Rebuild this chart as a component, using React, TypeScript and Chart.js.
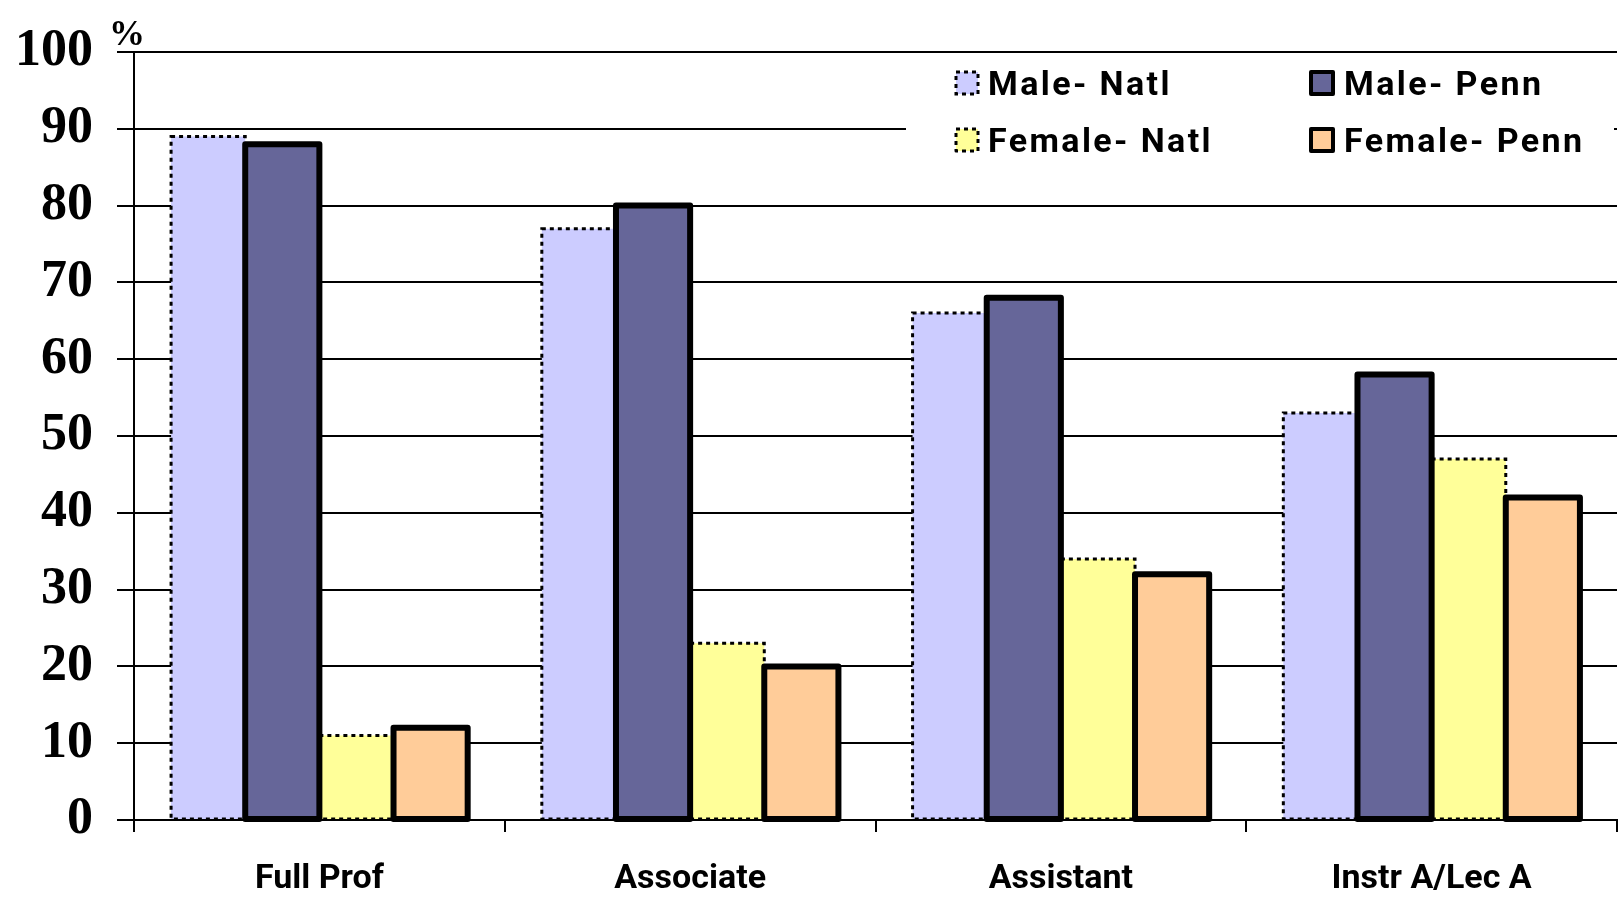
import React, { useEffect, useRef } from "react";
import { Chart, registerables } from "chart.js";

Chart.register(...registerables);

const categories = ["Full Prof", "Associate", "Assistant", "Instr A/Lec A"];
const maleNatl = [89, 77, 66, 53];
const malePenn = [88, 80, 68, 58];
const femaleNatl = [11, 23, 34, 47];
const femalePenn = [12, 20, 32, 42];
const seriesNames = ["Male- Natl", "Male- Penn", "Female- Natl", "Female- Penn"];
const seriesColors = ["#CCCCFF", "#666699", "#FFFF99", "#FFCC99"];
const dottedSeries = [true, false, true, false];

const borderPlugin = {
  id: "customBorders",
  afterDatasetsDraw(chart: any) {
    const ctx = chart.ctx;
    const order = [0, 2, 1, 3];
    order.forEach((i) => {
      const meta = chart.getDatasetMeta(i);
      ctx.save();
      ctx.strokeStyle = "#000";
      if (dottedSeries[i]) {
        ctx.lineWidth = 3;
        ctx.setLineDash([4, 4]);
        ctx.lineJoin = "miter";
      } else {
        ctx.lineWidth = 6;
        ctx.setLineDash([]);
        ctx.lineJoin = "round";
      }
      meta.data.forEach((bar: any) => {
        const p = bar.getProps(["x", "y", "base", "width"], true);
        const left = p.x - p.width / 2;
        ctx.strokeRect(left, p.y, p.width, p.base - p.y);
      });
      ctx.restore();
    });
  },
};

const legendPlugin = {
  id: "customLegend",
  afterDraw(chart: any) {
    const ctx = chart.ctx;
    ctx.save();
    ctx.fillStyle = "#ffffff";
    ctx.fillRect(906, 54, 708, 147);
    const cols = [956, 1311];
    const textX = [988, 1344];
    const rows = [83, 140];
    const layout = [
      [0, 0],
      [1, 0],
      [0, 1],
      [1, 1],
    ];
    seriesNames.forEach((name, i) => {
      const [c, r] = layout[i];
      const mx = cols[c];
      const my = rows[r] - 11;
      const size = 22;
      ctx.fillStyle = seriesColors[i];
      ctx.fillRect(mx, my, size, size);
      ctx.strokeStyle = "#000";
      if (dottedSeries[i]) {
        ctx.lineWidth = 3;
        ctx.setLineDash([4, 4]);
      } else {
        ctx.lineWidth = 4;
        ctx.setLineDash([]);
        ctx.lineJoin = "round";
      }
      ctx.strokeRect(mx, my, size, size);
      ctx.setLineDash([]);
      ctx.fillStyle = "#000";
      ctx.font = "bold 34px Roboto";
      (ctx as any).letterSpacing = "2.4px";
      ctx.textAlign = "left";
      ctx.textBaseline = "alphabetic";
      ctx.fillText(name, textX[c], rows[r] + 12);
    });
    (ctx as any).letterSpacing = "0px";
    ctx.font = "bold 36px 'Liberation Serif'";
    ctx.textAlign = "center";
    ctx.textBaseline = "alphabetic";
    ctx.fillText("%", 127, 45);
    ctx.restore();
  },
};

export default function App() {
  const ref = useRef<HTMLCanvasElement>(null);
  useEffect(() => {
    if (!ref.current) return;
    const datasets = [maleNatl, malePenn, femaleNatl, femalePenn].map((d, i) => ({
      label: seriesNames[i],
      data: d,
      backgroundColor: seriesColors[i],
      borderWidth: 0,
    }));
    const chart = new Chart(ref.current, {
      type: "bar",
      data: { labels: categories, datasets },
      options: {
        animation: false,
        responsive: false,
        maintainAspectRatio: false,
        layout: { padding: { top: 52, right: 7, left: 0, bottom: 0 } },
        datasets: { bar: { categoryPercentage: 0.8, barPercentage: 1.0 } },
        plugins: { legend: { display: false }, tooltip: { enabled: false } },
        scales: {
          x: {
            grid: {
              drawOnChartArea: false,
              color: "#000",
              lineWidth: 2,
              tickLength: 12,
              offset: true,
            },
            border: { color: "#000", width: 2 },
            ticks: {
              color: "#000",
              font: { family: "Roboto", weight: "bold", size: 34 },
              padding: 27,
            },
            afterFit: (s: any) => {
              s.height = 82;
              s.paddingLeft = 0;
              s.paddingRight = 0;
            },
          },
          y: {
            min: 0,
            max: 100,
            ticks: {
              stepSize: 10,
              color: "#000",
              font: { family: "'Liberation Serif'", weight: "bold", size: 52 },
              padding: 24,
            },
            grid: { color: "#000", lineWidth: 2, tickLength: 17 },
            border: { color: "#000", width: 2 },
            afterFit: (s: any) => {
              s.width = 134;
              s.paddingTop = 0;
              s.paddingBottom = 0;
            },
          },
        },
      },
      plugins: [borderPlugin, legendPlugin],
    });
    return () => chart.destroy();
  }, []);
  return (
    <div style={{ position: "absolute", left: 0, top: 0, width: 1624, height: 902, background: "#fff" }}>
      <canvas ref={ref} width={1624} height={902} style={{ display: "block" }} />
    </div>
  );
}
